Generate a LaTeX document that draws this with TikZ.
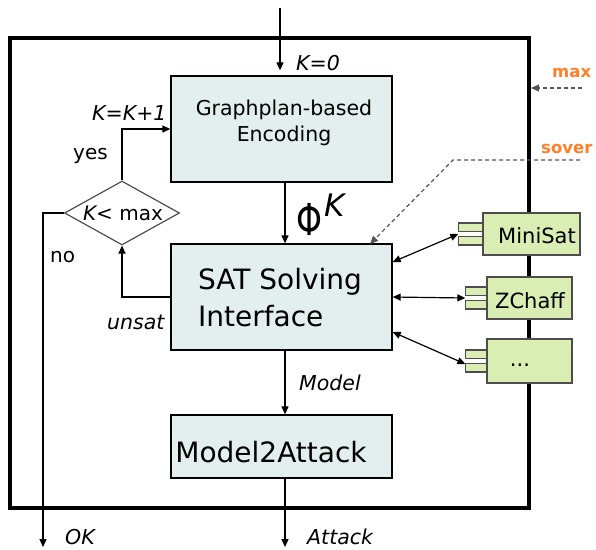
\documentclass[tikz,border=0pt]{standalone}
\usepackage{fontspec}
\setmainfont{DejaVu Sans}
\usetikzlibrary{arrows.meta,shapes.geometric,calc}
\definecolor{boxfill}{HTML}{E3EFEF}
\definecolor{compfill}{HTML}{DAEDB2}
\definecolor{compline}{HTML}{4D4D4D}
\definecolor{orng}{HTML}{FF7F2A}
\definecolor{dashgray}{HTML}{555555}
\begin{document}
\begin{tikzpicture}[x=1pt,y=-1pt,
  procbox/.style={draw=black, line width=1.3pt, fill=boxfill, inner sep=0pt},
  comp/.style={draw=compline, line width=1.3pt, fill=compfill, inner sep=0pt},
  tabbox/.style={draw=compline, line width=1.3pt, fill=compfill},
  arr/.style={line width=1.2pt, -{Triangle[length=8pt,width=7pt]}},
  biarr/.style={line width=1.2pt, {Triangle[length=8pt,width=7pt]}-{Triangle[length=8pt,width=7pt]}},
  dasharr/.style={draw=dashgray, line width=1.2pt, dash pattern=on 4pt off 3pt},
  lbl/.style={font=\fontsize{20.5}{24}\selectfont\itshape, inner sep=0pt},
  plainlbl/.style={font=\fontsize{20}{24}\selectfont, inner sep=0pt},
  optlbl/.style={font=\fontsize{16.5}{20}\selectfont\bfseries, text=orng, inner sep=0pt},
  comptext/.style={font=\fontsize{21}{25}\selectfont, inner sep=0pt}
]
\useasboundingbox (0,0) rectangle (596,549);

% outer frame
\draw[line width=4pt] (10,38) rectangle (529,508);

% process boxes
\node[procbox, minimum width=221pt, minimum height=106pt] (gp) at (281.5,129) {};
\node[font=\fontsize{20.5}{26}\selectfont, align=center, inner sep=0pt] (gpt) at (284,123) {Graphplan-based\\Encoding};
\node[procbox, minimum width=221pt, minimum height=106pt] (sat) at (281.5,297) {};
\node[font=\fontsize{28}{37}\selectfont, align=left, inner sep=0pt] (satt) at (280,298) {SAT Solving\\Interface};
\node[procbox, minimum width=221pt, minimum height=63pt] (m2a) at (281.5,446.5) {};
\node[font=\fontsize{28}{34}\selectfont, inner sep=0pt, anchor=base] (m2at) at (271,462) {Model2Attack};

% decision
\node[draw=compline, line width=1.2pt, shape=diamond, aspect=1.8, minimum width=115pt, minimum height=64pt, inner sep=0pt] (dia) at (122,213) {};
\node[plainlbl] (diat) at (123,213) {{\itshape K}< max};

% solver components
\node[comp, minimum width=97pt, minimum height=42pt] (ms) at (531.5,234) {};
\draw[tabbox] ([xshift=-24pt,yshift=2.5pt]ms.west) rectangle ([yshift=11pt]ms.west);
\draw[tabbox] ([xshift=-24pt,yshift=-2.5pt]ms.west) rectangle ([yshift=-11pt]ms.west);
\node[comptext, anchor=base] (mst) at (537,243) {MiniSat};

\node[comp, minimum width=85pt, minimum height=42pt] (zc) at (529.5,298) {};
\draw[tabbox] ([xshift=-21pt,yshift=2.5pt]zc.west) rectangle ([yshift=11pt]zc.west);
\draw[tabbox] ([xshift=-21pt,yshift=-2.5pt]zc.west) rectangle ([yshift=-11pt]zc.west);
\node[comptext, anchor=base] (zct) at (530,308) {ZChaff};

\node[comp, minimum width=85pt, minimum height=44pt] (dt) at (529.5,361) {};
\draw[tabbox] ([xshift=-21pt,yshift=2.5pt]dt.west) rectangle ([yshift=11pt]dt.west);
\draw[tabbox] ([xshift=-21pt,yshift=-2.5pt]dt.west) rectangle ([yshift=-11pt]dt.west);
\node[comptext, anchor=base] (dtt) at (520,366) {...};

% main flow
\coordinate (kin) at (280,8);
\draw[arr, shorten >=5pt] (kin) -- (kin |- gp.north);
\node[lbl, anchor=base west] (k0) at (296,70) {K=0};

\draw[arr] ([xshift=3.5pt]gp.south) -- ([xshift=3.5pt]sat.north);
\node[font=\fontsize{44}{48}\selectfont, inner sep=0pt, anchor=base west] (phik) at (296,235) {\scalebox{0.75}[1]{Φ}\kern2pt\raisebox{19pt}{\fontsize{31}{34}\selectfont\itshape K}};

\draw[arr] ([xshift=3.5pt]sat.south) -- ([xshift=3.5pt]m2a.north);
\node[lbl, anchor=base west] (mdl) at (299,390) {Model};

\coordinate (atk) at (285,547);
\draw[arr] ([xshift=3.5pt]m2a.south) -- (atk);
\node[lbl, anchor=base west] (atkt) at (307,544) {Attack};

% loop
\draw[arr] (dia.north) |- (gp.west);
\node[plainlbl, anchor=base west] (yes) at (73,159) {yes};
\node[lbl, anchor=base west] (kk1) at (92,120) {K=K+1};

\draw[arr] (sat.west) -| (dia.south);
\node[lbl, anchor=base west] (uns) at (107,329) {unsat};

\coordinate (okc) at (43,547);
\draw[arr] (dia.west) -| (okc);
\node[plainlbl, anchor=base west] (no) at (50,262) {no};
\node[lbl, anchor=base west] (okt) at (65,544) {OK};

% solver links
\draw[biarr] ([yshift=35pt]sat.east) -- ([xshift=-24pt]ms.west);
\draw[biarr] (sat.east) -- ([xshift=-21pt]zc.west);
\draw[biarr] ([yshift=-35pt]sat.east) -- ([xshift=-21pt,yshift=-3pt]dt.west);

% options
\node[optlbl, anchor=base west] (maxt) at (552,77) {max};
\coordinate (maxs) at (582,88);
\draw[dasharr, -{Triangle[length=8pt,width=7pt]}] (maxs) -- (531,88);
\node[optlbl, anchor=base west] (sovt) at (541,153) {sover};
\coordinate (sovs) at (580,160);
\coordinate (sovb) at (453,160);
\draw[dasharr, -{Triangle[length=8pt,width=7pt]}] (sovs) -- (sovb) -- (370,244);
\end{tikzpicture}
\end{document}
